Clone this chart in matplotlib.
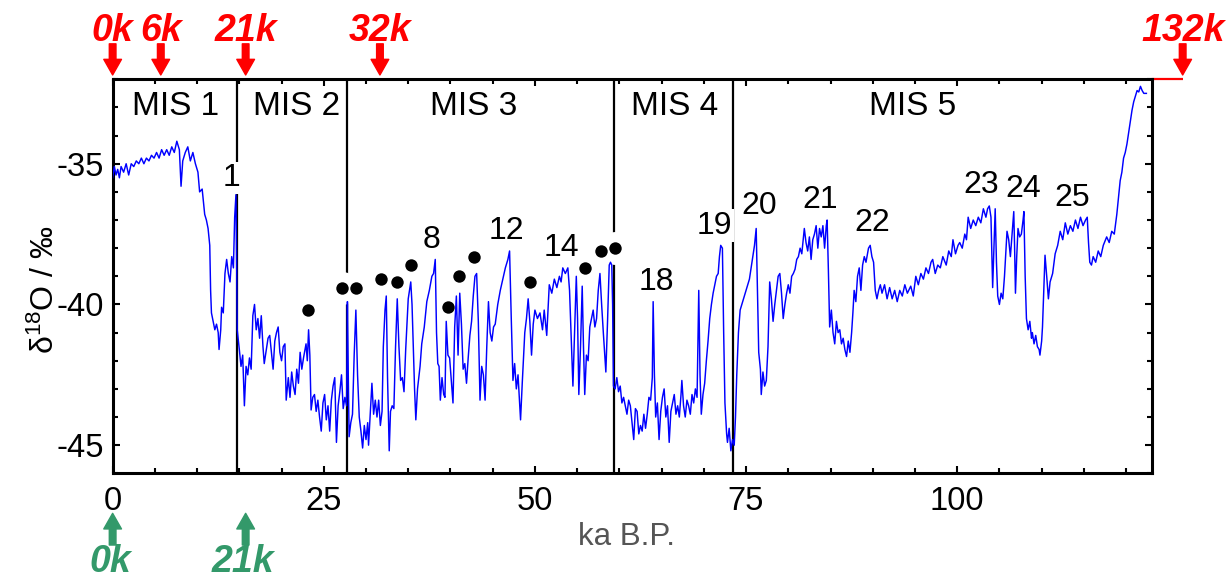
import matplotlib
matplotlib.use("Agg")
import matplotlib.pyplot as plt
import numpy as np

plt.rcParams["font.family"] = ["Liberation Sans", "DejaVu Sans"]
plt.rcParams["axes.unicode_minus"] = False
plt.rcParams["mathtext.fontset"] = "custom"
plt.rcParams["mathtext.rm"] = "Liberation Sans"
plt.rcParams["mathtext.it"] = "Liberation Sans:italic"
plt.rcParams["mathtext.bf"] = "Liberation Sans:bold"

# NGRIP delta-18O record (ka B.P., permil)
age_ka = [
    0.0, 0.2, 0.4, 0.6, 0.8, 1.0, 1.3, 1.6, 1.9, 2.2,
    2.5, 2.8, 3.1, 3.4, 3.7, 4.0, 4.3, 4.6, 4.9, 5.2,
    5.5, 5.8, 6.1, 6.4, 6.7, 7.0, 7.3, 7.6, 7.9, 8.1,
    8.3, 8.6, 8.9, 9.2, 9.5, 9.8, 10.1, 10.3, 10.6, 10.9,
    11.1, 11.3, 11.5, 11.6, 11.7, 11.9, 12.1, 12.3, 12.5, 12.6,
    12.8, 12.9, 13.1, 13.3, 13.5, 13.7, 13.9, 14.1, 14.3, 14.45,
    14.6, 14.7, 14.75, 15.0, 15.2, 15.4, 15.6, 15.8, 16.0, 16.2,
    16.4, 16.6, 16.8, 17.0, 17.2, 17.4, 17.6, 17.8, 17.95, 18.2,
    18.4, 18.6, 18.8, 19.0, 19.2, 19.4, 19.6, 19.8, 20.0, 20.2,
    20.4, 20.55, 20.8, 21.0, 21.2, 21.4, 21.6, 21.8, 22.0, 22.2,
    22.4, 22.6, 22.9, 23.05, 23.2, 23.35, 23.5, 23.7, 23.9, 24.1,
    24.3, 24.5, 24.7, 24.9, 25.1, 25.3, 25.5, 25.7, 25.9, 26.1,
    26.3, 26.5, 26.7, 26.9, 27.1, 27.3, 27.5, 27.7, 27.8, 27.9,
    28.0, 28.2, 28.4, 28.6, 28.8, 29.0, 29.2, 29.4, 29.6, 29.8,
    30.0, 30.2, 30.3, 30.5, 30.7, 30.9, 31.1, 31.3, 31.5, 31.7,
    31.9, 32.05, 32.25, 32.4, 32.55, 32.75, 32.9, 33.1, 33.3, 33.5,
    33.7, 33.9, 34.1, 34.3, 34.5, 34.7, 35.0, 35.3, 35.45, 35.6,
    35.75, 35.9, 36.1, 36.4, 36.6, 36.9, 37.2, 37.5, 37.8, 38.0,
    38.2, 38.35, 38.5, 38.65, 38.8, 39.0, 39.2, 39.35, 39.5, 39.7,
    39.9, 40.1, 40.3, 40.5, 40.7, 40.9, 41.1, 41.3, 41.5, 41.7,
    41.9, 42.1, 42.3, 42.5, 42.7, 42.9, 43.1, 43.3, 43.5, 43.7,
    43.9, 44.1, 44.3, 44.5, 44.7, 44.9, 45.1, 45.3, 45.6, 45.9,
    46.2, 46.5, 46.8, 47.0, 47.2, 47.4, 47.6, 47.8, 48.0, 48.3,
    48.5, 48.8, 49.0, 49.2, 49.4, 49.6, 49.8, 50.0, 50.3, 50.6,
    50.9, 51.1, 51.4, 51.7, 52.0, 52.3, 52.6, 52.9, 53.1, 53.3,
    53.6, 53.9, 54.1, 54.3, 54.5, 54.7, 54.9, 55.05, 55.2, 55.4,
    55.6, 55.75, 55.9, 56.1, 56.3, 56.5, 56.7, 56.9, 57.1, 57.3,
    57.5, 57.7, 57.9, 58.1, 58.4, 58.6, 58.8, 58.95, 59.1, 59.2,
    59.3, 59.5, 59.7, 59.9, 60.1, 60.3, 60.5, 60.7, 60.9, 61.1,
    61.3, 61.5, 61.7, 61.9, 62.1, 62.3, 62.5, 62.7, 62.9, 63.1,
    63.3, 63.5, 63.7, 63.9, 64.0, 64.15, 64.3, 64.5, 64.7, 64.9,
    65.1, 65.3, 65.5, 65.7, 65.9, 66.1, 66.3, 66.5, 66.7, 66.9,
    67.1, 67.3, 67.4, 67.6, 67.8, 68.0, 68.2, 68.4, 68.6, 68.8,
    69.0, 69.2, 69.4, 69.55, 69.7, 69.9, 70.1, 70.3, 70.5, 70.7,
    70.9, 71.1, 71.3, 71.5, 71.7, 71.85, 72.0, 72.2, 72.35, 72.5,
    72.7, 72.8, 73.0, 73.2, 73.4, 73.6, 73.75, 73.9, 74.1, 74.3,
    74.6, 74.9, 75.1, 75.4, 75.7, 76.0, 76.2, 76.35, 76.5, 76.7,
    76.8, 77.0, 77.2, 77.4, 77.6, 77.8, 78.0, 78.2, 78.4, 78.6,
    78.8, 79.0, 79.2, 79.4, 79.6, 79.8, 80.0, 80.2, 80.4, 80.6,
    80.8, 81.0, 81.2, 81.4, 81.6, 81.9, 82.1, 82.3, 82.5, 82.7,
    82.9, 83.1, 83.3, 83.5, 83.7, 83.9, 84.1, 84.3, 84.5, 84.6,
    84.75, 84.9, 85.1, 85.3, 85.5, 85.7, 85.9, 86.1, 86.3, 86.5,
    86.7, 86.9, 87.1, 87.3, 87.5, 87.65, 87.8, 88.0, 88.2, 88.4,
    88.6, 88.8, 89.0, 89.2, 89.5, 89.7, 89.9, 90.1, 90.3, 90.5,
    90.7, 90.9, 91.1, 91.4, 91.7, 92.0, 92.3, 92.6, 92.9, 93.2,
    93.5, 93.8, 94.1, 94.5, 94.8, 95.1, 95.4, 95.7, 96.0, 96.3,
    96.6, 96.9, 97.1, 97.4, 97.7, 98.0, 98.3, 98.7, 99.0, 99.3,
    99.5, 99.8, 100.1, 100.3, 100.6, 100.9, 101.1, 101.3, 101.6, 101.9,
    102.2, 102.5, 102.8, 103.1, 103.4, 103.6, 103.8, 104.0, 104.2, 104.35,
    104.5, 104.65, 104.8, 105.0, 105.2, 105.4, 105.6, 105.9, 106.1, 106.3,
    106.5, 106.7, 106.8, 106.9, 107.05, 107.2, 107.4, 107.6, 107.8, 107.9,
    108.05, 108.2, 108.4, 108.6, 108.8, 108.9, 109.1, 109.3, 109.5, 109.7,
    109.8, 110.0, 110.1, 110.25, 110.4, 110.6, 110.8, 111.0, 111.3, 111.6,
    111.9, 112.2, 112.5, 112.8, 113.1, 113.4, 113.7, 114.0, 114.3, 114.6,
    114.9, 115.2, 115.4, 115.55, 115.7, 115.9, 116.1, 116.4, 116.7, 117.0,
    117.3, 117.7, 118.0, 118.3, 118.6, 118.9, 119.1, 119.3, 119.5, 119.7,
    119.9, 120.1, 120.3, 120.5, 120.7, 120.9, 121.1, 121.3, 121.5, 121.7,
    121.9, 122.1, 122.4,
]
d18o = [
    -35.5, -35.1, -35.4, -35.2, -35.5, -35.1, -35.3, -35.0, -35.4, -35.0,
    -35.1, -34.9, -35.0, -34.8, -35.0, -34.8, -34.9, -34.7, -34.8, -34.6,
    -34.8, -34.5, -34.7, -34.5, -34.7, -34.4, -34.6, -34.2, -34.5, -35.8,
    -34.9, -34.6, -34.4, -34.9, -34.6, -35.0, -35.3, -36.0, -35.9, -36.8,
    -37.0, -37.3, -37.9, -39.5, -40.3, -40.6, -40.9, -40.7, -41.0, -41.6,
    -40.9, -40.1, -40.3, -38.9, -38.4, -38.9, -39.2, -38.3, -38.7, -36.9,
    -36.1, -39.0, -40.9, -41.6, -42.2, -41.8, -43.6, -42.2, -42.5, -41.9,
    -42.3, -40.4, -40.0, -40.9, -40.5, -41.2, -40.4, -41.5, -42.1, -41.6,
    -41.2, -41.1, -41.7, -42.3, -41.3, -41.0, -40.8, -41.7, -42.0, -41.5,
    -41.4, -43.4, -42.6, -43.3, -42.4, -42.9, -43.2, -42.3, -42.8, -41.7,
    -42.3, -41.9, -41.4, -42.0, -40.9, -41.8, -43.75, -43.3, -43.2, -43.8,
    -43.4, -44.0, -44.5, -43.5, -43.2, -44.1, -43.6, -44.5, -43.4, -42.9,
    -42.6, -44.9, -43.6, -43.1, -42.5, -43.7, -43.3, -43.6, -39.9, -42.5,
    -44.7, -44.2, -43.9, -41.8, -40.2, -42.5, -44.0, -44.5, -45.1, -44.3,
    -44.8, -44.2, -45.0, -43.9, -42.8, -43.9, -43.4, -44.0, -43.4, -44.3,
    -43.8, -41.5, -40.2, -39.7, -42.6, -45.2, -43.8, -43.6, -43.7, -41.5,
    -39.8, -41.5, -42.7, -42.6, -43.1, -41.6, -39.8, -39.2, -40.0, -41.5,
    -43.0, -44.1, -43.0, -42.2, -41.4, -40.8, -39.9, -39.5, -39.0, -38.9,
    -38.4, -41.0, -42.1, -42.2, -43.4, -42.6, -43.2, -43.3, -40.6, -41.8,
    -41.9, -42.7, -43.5, -40.8, -39.7, -41.8, -39.6, -40.7, -42.3, -42.1,
    -42.8, -41.9, -41.1, -40.6, -39.7, -39.0, -38.9, -40.6, -43.4, -42.2,
    -42.5, -43.4, -41.5, -39.9, -41.0, -41.3, -40.8, -40.7, -40.0, -39.5,
    -39.1, -38.7, -38.4, -38.1, -40.5, -42.7, -42.1, -43.0, -42.5, -44.1,
    -42.8, -41.0, -40.5, -39.8, -40.6, -41.8, -40.7, -40.2, -40.5, -40.3,
    -40.9, -40.2, -41.1, -39.3, -39.6, -39.1, -39.4, -39.0, -39.2, -38.7,
    -38.9, -38.7, -39.5, -41.25, -42.9, -41.0, -39.0, -40.5, -43.2, -41.5,
    -39.35, -41.5, -43.2, -41.8, -42.0, -40.8, -40.5, -40.2, -40.8, -40.5,
    -39.5, -38.9, -40.0, -41.0, -42.4, -40.6, -38.6, -38.5, -38.6, -40.0,
    -42.9, -43.0, -42.6, -43.1, -42.9, -43.5, -43.3, -43.6, -43.9, -43.4,
    -43.6, -44.2, -44.8, -43.7, -43.8, -44.6, -44.3, -44.5, -43.9, -44.4,
    -43.9, -43.3, -43.4, -42.6, -39.9, -42.5, -44.0, -43.5, -44.8, -43.8,
    -43.3, -43.0, -44.0, -43.6, -44.9, -43.8, -43.5, -43.2, -43.9, -43.6,
    -44.0, -43.2, -42.7, -43.6, -44.0, -43.4, -43.6, -43.9, -43.2, -43.5,
    -43.0, -43.3, -39.5, -42.5, -43.9, -43.2, -42.8, -42.0, -41.3, -40.5,
    -40.0, -39.6, -39.3, -39.0, -38.9, -38.3, -37.9, -38.0, -41.0, -43.5,
    -44.6, -44.9, -44.4, -45.2, -44.8, -45.0, -44.0, -42.5, -41.0, -40.2,
    -39.9, -39.6, -39.4, -39.1, -38.5, -37.9, -37.3, -39.5, -41.7, -42.3,
    -43.2, -42.4, -42.9, -42.7, -41.5, -39.2, -39.8, -40.6, -40.0, -39.5,
    -39.0, -38.9, -39.6, -40.5, -40.0, -39.6, -39.3, -39.6, -39.0, -38.9,
    -38.75, -38.4, -38.3, -38.0, -38.2, -37.3, -37.8, -38.1, -37.6, -38.4,
    -37.7, -37.5, -37.2, -38.0, -37.3, -37.6, -37.2, -38.0, -37.2, -37.0,
    -38.8, -40.8, -40.2, -41.0, -41.4, -40.6, -41.0, -40.9, -41.4, -41.2,
    -41.6, -41.85, -41.3, -41.7, -41.0, -40.3, -39.5, -39.9, -39.0, -38.7,
    -39.5, -38.6, -38.3, -38.5, -38.0, -37.9, -38.3, -38.5, -39.5, -39.8,
    -39.5, -39.3, -39.6, -39.3, -39.8, -39.4, -39.8, -39.5, -39.9, -39.5,
    -39.7, -39.3, -39.6, -39.35, -39.7, -39.0, -39.3, -38.9, -39.1, -38.7,
    -38.9, -38.5, -38.4, -38.9, -38.6, -38.7, -38.3, -38.6, -38.1, -38.3,
    -37.7, -38.2, -37.9, -37.8, -38.0, -37.5, -37.7, -36.9, -37.3, -37.0,
    -37.2, -36.9, -37.1, -36.6, -36.9, -36.6, -36.5, -36.9, -39.4, -38.0,
    -36.6, -38.5, -39.7, -40.0, -39.6, -39.8, -39.0, -37.4, -37.7, -38.3,
    -37.5, -36.7, -38.0, -39.6, -38.3, -37.3, -37.6, -37.5, -37.0, -36.7,
    -39.0, -40.5, -40.9, -40.6, -41.2, -41.0, -41.4, -41.1, -41.5, -41.6,
    -41.8, -41.3, -40.8, -39.5, -38.25, -39.0, -39.8, -39.2, -38.9, -38.2,
    -37.9, -37.4, -37.7, -37.1, -37.5, -37.2, -37.4, -37.0, -37.3, -36.9,
    -37.2, -37.0, -36.9, -37.8, -38.5, -38.6, -38.3, -38.5, -38.1, -38.3,
    -37.9, -37.6, -37.8, -37.4, -37.5, -36.8, -36.2, -35.6, -35.3, -34.8,
    -34.6, -34.3, -33.9, -33.5, -33.1, -32.8, -32.6, -32.4, -32.45, -32.25,
    -32.4, -32.5, -32.5,
]

# Marine isotope stage boundaries and names
mis_bounds = [14.7, 27.8, 59.4, 73.5]
mis_names = ["MIS 1", "MIS 2", "MIS 3", "MIS 4", "MIS 5"]
mis_label_x = [7.5, 21.8, 42.8, 66.5, 94.7]

# Greenland interstadial numbers
event_names = ["1", "8", "12", "14", "18", "19", "20", "21", "22", "23", "24", "25"]
event_x = [14.1, 37.8, 46.6, 53.1, 64.4, 71.3, 76.5, 83.8, 90.0, 102.8, 107.8, 113.6]
event_y = [-35.5, -37.7, -37.4, -38.0, -39.2, -37.2, -36.5, -36.3, -37.1, -35.75, -35.9, -36.2]

# Unnumbered interstadial markers
dot_x = [23.1, 27.1, 28.8, 31.8, 33.7, 35.3, 39.7, 41.0, 42.8, 49.4, 55.9, 57.8, 59.5]
dot_y = [-40.2, -39.4, -39.4, -39.1, -39.2, -38.6, -40.1, -39.0, -38.3, -39.2, -38.7, -38.1, -38.0]

# Time-slice markers above and below the axis
top_marks = ["0k", "6k", "21k", "32k", "132k"]
top_mark_x = [0.0, 5.7, 15.75, 31.65, 126.7]
bottom_marks = ["0k", "21k"]
bottom_mark_x = [0.0, 15.75]

fig = plt.figure(figsize=(12.27, 5.78), dpi=100)
ax = fig.add_axes([0.0918, 0.1811, 0.8473, 0.6817])
ax.set_xlim(0, 123.1)
ax.set_ylim(-46, -32)

for b in mis_bounds:
    ax.axvline(b, color="black", lw=1.6, zorder=1)

# white halos keep the stage lines clear around markers
ax.scatter(dot_x, dot_y, s=560, color="white", linewidths=0, zorder=2)
ax.plot(age_ka, d18o, color="#0000ff", lw=1.05, zorder=4)
ax.scatter(dot_x, dot_y, s=80, color="black", linewidths=0, zorder=5)

for name, x, y in zip(event_names, event_x, event_y):
    ax.text(x, y, name, ha="center", va="center", fontsize=23, zorder=3,
            bbox=dict(facecolor="white", edgecolor="none", pad=1.0))

for name, x in zip(mis_names, mis_label_x):
    ax.text(x, -32.95, name, ha="center", va="center", fontsize=24, zorder=3)

ax.set_xticks([0, 25, 50, 75, 100])
ax.set_xticks(np.arange(0, 125, 5), minor=True)
ax.set_yticks([-45, -40, -35])
ax.set_yticks(np.arange(-46, -31, 1), minor=True)
ax.tick_params(which="both", direction="in", top=True, right=True, width=1.5)
ax.tick_params(which="major", length=5)
ax.tick_params(which="minor", length=3.5)
ax.tick_params(axis="x", labelsize=23.5, pad=9)
ax.tick_params(axis="y", labelsize=23.5, pad=6)
for sp in ax.spines.values():
    sp.set_linewidth(2.2)

ax.text(0.4947, -0.162, "ka B.P.", transform=ax.transAxes, ha="center", va="center",
        fontsize=22.5, color="#555555")
ax.text(-0.065, 0.465, "δ$^{18}$O / ‰", transform=ax.transAxes, ha="center", va="center",
        rotation=90, fontsize=23)

trans = ax.get_xaxis_transform()
arrow_style = "simple,head_width=0.85,head_length=0.75,tail_width=0.32"

for lab, x in zip(top_marks, top_mark_x):
    ax.annotate("", xy=(x, 1.011), xycoords=trans, xytext=(x, 1.09), textcoords=trans,
                arrowprops=dict(arrowstyle=arrow_style, mutation_scale=15, color="red",
                                shrinkA=0, shrinkB=0),
                annotation_clip=False)
    ax.text(x, 1.123, lab, transform=trans, ha="center", va="center", fontsize=27,
            color="red", fontweight="bold", fontstyle="italic", clip_on=False)

ax.plot([123.1, 126.7], [1.0, 1.0], transform=trans, color="red", lw=1.6, clip_on=False,
        solid_capstyle="butt")

for lab, x in zip(bottom_marks, bottom_mark_x):
    ax.annotate("", xy=(x, -0.1015), xycoords=trans, xytext=(x, -0.182), textcoords=trans,
                arrowprops=dict(arrowstyle=arrow_style, mutation_scale=15, color="#33996a",
                                shrinkA=0, shrinkB=0),
                annotation_clip=False)
    ax.text(x - 0.3, -0.2244, lab, transform=trans, ha="center", va="center", fontsize=27,
            color="#33996a", fontweight="bold", fontstyle="italic", clip_on=False)

fig.savefig("out.png", dpi=100)
